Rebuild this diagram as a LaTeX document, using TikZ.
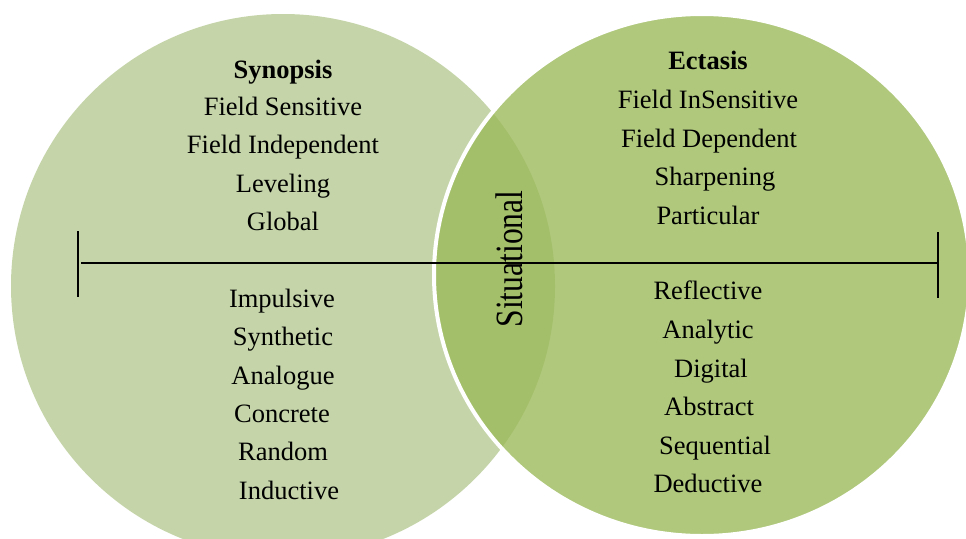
\documentclass[tikz,border=0pt]{standalone}
\usepackage{fontspec}
\setmainfont{Liberation Serif}
\definecolor{leftgreen}{HTML}{C5D5A9}
\definecolor{rightgreen}{HTML}{AFC87C}
\definecolor{overgreen}{HTML}{A4BF6A}
\tikzset{
  lbl/.style={font=\fontsize{26.5}{30}\selectfont, anchor=base, inner sep=0pt},
  ttl/.style={lbl, font=\fontsize{26.5}{30}\selectfont\bfseries},
  axisline/.style={draw=black, line width=2pt},
}
\begin{document}
\begin{tikzpicture}[x=1pt,y=-1pt]
\useasboundingbox (0,0) rectangle (966,538);
% circles
\fill[leftgreen] (283,286) circle (272);
\fill[rightgreen] (702,275) ellipse [x radius=268, y radius=261];
\begin{scope}
  \clip (702,275) ellipse [x radius=268, y radius=261];
  \fill[overgreen] (283,286) circle (272);
\end{scope}
\draw[white, line width=4pt] (702,275) ellipse [x radius=268, y radius=261];
% axis
\coordinate (lt1) at (78,231);
\coordinate (lt2) at (78,297);
\coordinate (rt1) at (938,232);
\coordinate (rt2) at (938,298);
\coordinate (ls) at (81,263);
\coordinate (le) at (938,263);
\draw[axisline] (lt1) -- (lt2);
\draw[axisline] (rt1) -- (rt2);
\draw[axisline] (ls) -- (le);
% left texts
\node[ttl] (syn) at (283,78) {Synopsis};
\node[lbl] (fs) at (283,115) {Field Sensitive};
\node[lbl] (fi) at (283,153) {Field Independent};
\node[lbl] (lev) at (283,192) {Leveling};
\node[lbl] (glo) at (283,230) {Global};
\node[lbl] (imp) at (282,307) {Impulsive};
\node[lbl] (synt) at (283,345) {Synthetic};
\node[lbl] (ana) at (283,384) {Analogue};
\node[lbl] (con) at (282,422) {Concrete};
\node[lbl] (ran) at (283,460) {Random};
\node[lbl] (ind) at (289,499) {Inductive};
% right texts
\node[ttl] (ect) at (708,69) {Ectasis};
\node[lbl] (fins) at (708,108) {Field InSensitive};
\node[lbl] (fd) at (709,147) {Field Dependent};
\node[lbl] (sha) at (715,185) {Sharpening};
\node[lbl] (par) at (708,224) {Particular};
\node[lbl] (ref) at (708,299) {Reflective};
\node[lbl] (anal) at (708,338) {Analytic};
\node[lbl] (dig) at (711,377) {Digital};
\node[lbl] (abs) at (709,415) {Abstract};
\node[lbl] (seq) at (715,454) {Sequential};
\node[lbl] (ded) at (708,492) {Deductive};
% middle
\node[rotate=90, inner sep=0pt, font=\fontsize{31.6}{34}\selectfont] (sit) at (509,259) {\scalebox{1}[1.22]{Situational}};
\end{tikzpicture}
\end{document}
